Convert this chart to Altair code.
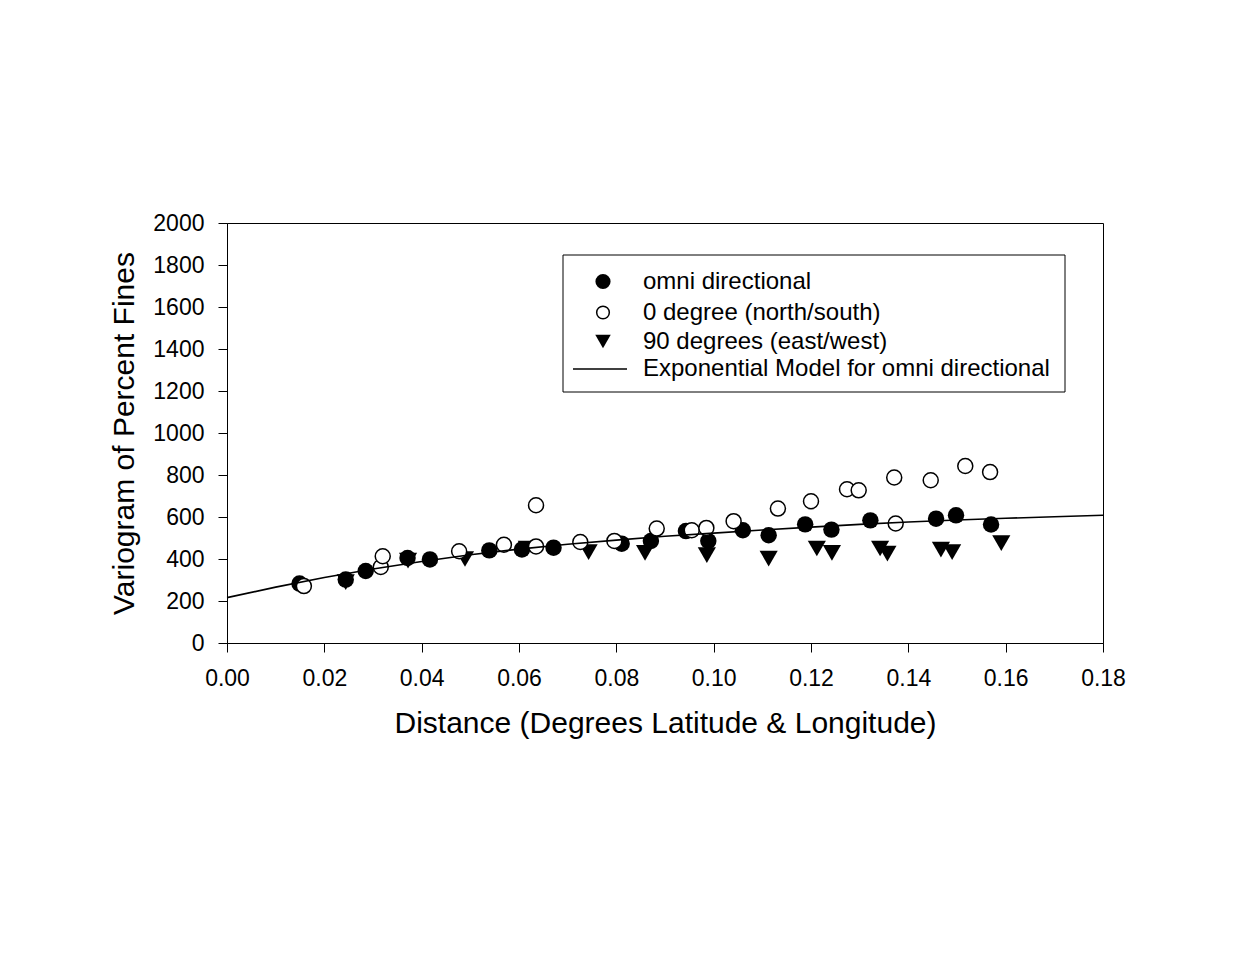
import altair as alt
import pandas as pd

# ---- data ----
omni_x = [0.0149, 0.0244, 0.0285, 0.0371, 0.0417, 0.0539, 0.0606, 0.0671, 0.0811, 0.0871,
          0.0943, 0.0989, 0.1060, 0.1113, 0.1188, 0.1242, 0.1322, 0.1457, 0.1498, 0.1570]
omni_y = [283, 302, 343, 405, 398, 441, 445, 454, 473, 486,
          533, 486, 537, 513, 565, 540, 584, 592, 608, 564]

ns_x = [0.0158, 0.0316, 0.0320, 0.0477, 0.0569, 0.0635, 0.0635, 0.0726, 0.0796, 0.0883, 0.0955,
        0.0985, 0.1041, 0.1132, 0.1200, 0.1274, 0.1298, 0.1371, 0.1374, 0.1446, 0.1517, 0.1568]
ns_y = [271, 362, 413, 437, 468, 656, 460, 481, 486, 545, 537,
        548, 580, 640, 675, 732, 727, 788, 569, 775, 843, 814]

ew_x = [0.0244, 0.0372, 0.0489, 0.0616, 0.0743, 0.0859, 0.0986, 0.1113, 0.1212,
        0.1243, 0.1342, 0.1357, 0.1467, 0.1490, 0.1591]
ew_y = [290, 392, 400, 450, 433, 429, 418, 402, 450,
        429, 450, 426, 445, 433, 476]

model_x = [0.00, 0.01, 0.02, 0.03, 0.04, 0.05, 0.06, 0.07, 0.08, 0.09,
           0.10, 0.11, 0.12, 0.13, 0.14, 0.15, 0.16, 0.17, 0.18]
model_y = [216, 266, 312, 352, 388, 420, 447, 470, 490, 508,
           523, 538, 552, 565, 576, 586, 594, 601, 608]

x_ticks = [0.00, 0.02, 0.04, 0.06, 0.08, 0.10, 0.12, 0.14, 0.16, 0.18]
y_ticks = [0, 200, 400, 600, 800, 1000, 1200, 1400, 1600, 1800, 2000]

legend_labels = ["omni directional", "0 degree (north/south)",
                 "90 degrees (east/west)", "Exponential Model for omni directional"]

x_title = "Distance (Degrees Latitude & Longitude)"
y_title = "Variogram of Percent Fines"

FONT = "Liberation Sans"

omni = pd.DataFrame({"x": omni_x, "y": omni_y})
ns = pd.DataFrame({"x": ns_x, "y": ns_y})
ew = pd.DataFrame({"x": ew_x, "y": ew_y})
model = pd.DataFrame({"x": model_x, "y": model_y})
one = pd.DataFrame({"k": [0]})

xscale = alt.Scale(domain=[0, 0.18], nice=False, zero=False)
yscale = alt.Scale(domain=[0, 2000], nice=False)

xaxis = alt.Axis(values=x_ticks, format=".2f", grid=False, tickSize=9, tickColor="black",
                 domainColor="black", labelFontSize=23, labelPadding=15, labelColor="black",
                 labelFont=FONT, title=x_title, titleFont=FONT, titleFontSize=30,
                 titleFontWeight="normal", titleColor="black", titleX=438, titleY=89,
                 titleBaseline="alphabetic", titleAlign="center", labelFlush=False)
yaxis = alt.Axis(values=y_ticks, format="d", grid=False, tickSize=9, tickColor="black",
                 domainColor="black", labelFontSize=23, labelPadding=14, labelColor="black",
                 labelFont=FONT, title=y_title, titleFont=FONT, titleFontSize=30,
                 titleFontWeight="normal", titleColor="black", titleX=-94, titleY=210,
                 titleAngle=-90, titleBaseline="alphabetic", titleAlign="center",
                 labelFlush=False)

tri = alt.Chart(ew).mark_point(shape="triangle-down", filled=True, fill="black",
                               stroke="black", strokeWidth=0, size=330, opacity=1).encode(
    x=alt.X("x:Q", scale=xscale, axis=xaxis),
    y=alt.Y("y:Q", scale=yscale, axis=yaxis),
)
filled = alt.Chart(omni).mark_point(shape="circle", filled=True, fill="black",
                                    stroke="black", strokeWidth=0, size=270, opacity=1).encode(
    x=alt.X("x:Q", scale=xscale), y=alt.Y("y:Q", scale=yscale))
openc = alt.Chart(ns).mark_point(shape="circle", filled=True, fill="white",
                                 stroke="black", strokeWidth=1.5, size=225, opacity=1).encode(
    x=alt.X("x:Q", scale=xscale), y=alt.Y("y:Q", scale=yscale))
line = alt.Chart(model).mark_line(color="black", strokeWidth=1.6).encode(
    x=alt.X("x:Q", scale=xscale), y=alt.Y("y:Q", scale=yscale))

# ---- legend (layout positions in plot pixels) ----
box = alt.Chart(one).mark_rect(fill="white", stroke="black", strokeWidth=1).encode(
    x=alt.value(336), x2=alt.value(838), y=alt.value(32), y2=alt.value(169))
rows = [58.5, 89.5, 118.5, 146]
sym_x = 376
lg1 = alt.Chart(one).mark_point(shape="circle", filled=True, fill="black", strokeWidth=0,
                                size=230, opacity=1).encode(x=alt.value(sym_x), y=alt.value(rows[0]))
lg2 = alt.Chart(one).mark_point(shape="circle", filled=True, fill="white", stroke="black",
                                strokeWidth=1.5, size=160, opacity=1).encode(
    x=alt.value(sym_x), y=alt.value(rows[1]))
lg3 = alt.Chart(one).mark_point(shape="triangle-down", filled=True, fill="black", strokeWidth=0,
                                size=240, opacity=1).encode(x=alt.value(sym_x), y=alt.value(rows[2]))
lg4 = alt.Chart(one).mark_rule(color="black", strokeWidth=1.5).encode(
    x=alt.value(346), x2=alt.value(400), y=alt.value(rows[3]))
texts = [
    alt.Chart(one).mark_text(text=lab, align="left", baseline="middle", fontSize=24,
                             font=FONT, color="black").encode(x=alt.value(416), y=alt.value(r))
    for lab, r in zip(legend_labels, rows)
]

chart = alt.layer(tri, filled, openc, line, box, lg1, lg2, lg3, lg4, *texts).properties(
    width=876, height=420,
    autosize=alt.AutoSizeParams(type="none"),
    padding={"left": 219, "top": 215, "right": 120, "bottom": 290},
    background="white",
).configure(font=FONT, view=alt.ViewConfig(stroke="black", strokeWidth=1))

chart.save("out.html", embed_options={"renderer": "svg", "actions": False})
